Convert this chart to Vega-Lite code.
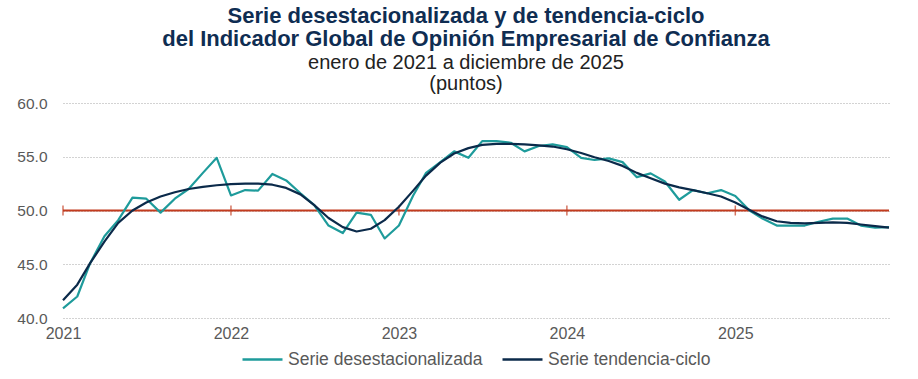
{
  "$schema": "https://vega.github.io/schema/vega-lite/v6.json",
  "autosize": {"type": "none"},
  "width": 826,
  "height": 215,
  "padding": {"left": 63, "top": 103, "right": 29, "bottom": 61},
  "background": "white",
  "title": {
    "text": ["Serie desestacionalizada y de tendencia-ciclo", "del Indicador Global de Opinión Empresarial de Confianza"],
    "subtitle": ["enero de 2021 a diciembre de 2025", "(puntos)"],
    "anchor": "middle",
    "dx": -10,
    "font": "Liberation Sans, Arial, sans-serif",
    "fontSize": 22,
    "fontWeight": "bold",
    "color": "#0F2D52",
    "lineHeight": 23,
    "subtitleFont": "Liberation Sans, Arial, sans-serif",
    "subtitleFontSize": 20,
    "subtitleColor": "#222222",
    "subtitleLineHeight": 21,
    "subtitlePadding": 2,
    "offset": 1
  },
  "datasets": {
    "series": [
      {"fecha": "2021-01-01T00:00:00", "serie": "Serie desestacionalizada", "valor": 40.9},
      {"fecha": "2021-02-01T00:00:00", "serie": "Serie desestacionalizada", "valor": 42.0},
      {"fecha": "2021-03-01T00:00:00", "serie": "Serie desestacionalizada", "valor": 45.1},
      {"fecha": "2021-04-01T00:00:00", "serie": "Serie desestacionalizada", "valor": 47.6},
      {"fecha": "2021-05-01T00:00:00", "serie": "Serie desestacionalizada", "valor": 49.1},
      {"fecha": "2021-06-01T00:00:00", "serie": "Serie desestacionalizada", "valor": 51.2},
      {"fecha": "2021-07-01T00:00:00", "serie": "Serie desestacionalizada", "valor": 51.1},
      {"fecha": "2021-08-01T00:00:00", "serie": "Serie desestacionalizada", "valor": 49.8},
      {"fecha": "2021-09-01T00:00:00", "serie": "Serie desestacionalizada", "valor": 51.1},
      {"fecha": "2021-10-01T00:00:00", "serie": "Serie desestacionalizada", "valor": 52.0},
      {"fecha": "2021-11-01T00:00:00", "serie": "Serie desestacionalizada", "valor": 53.5},
      {"fecha": "2021-12-01T00:00:00", "serie": "Serie desestacionalizada", "valor": 54.9},
      {"fecha": "2022-01-01T00:00:00", "serie": "Serie desestacionalizada", "valor": 51.4},
      {"fecha": "2022-02-01T00:00:00", "serie": "Serie desestacionalizada", "valor": 51.9},
      {"fecha": "2022-03-01T00:00:00", "serie": "Serie desestacionalizada", "valor": 51.85},
      {"fecha": "2022-04-01T00:00:00", "serie": "Serie desestacionalizada", "valor": 53.4},
      {"fecha": "2022-05-01T00:00:00", "serie": "Serie desestacionalizada", "valor": 52.8},
      {"fecha": "2022-06-01T00:00:00", "serie": "Serie desestacionalizada", "valor": 51.6},
      {"fecha": "2022-07-01T00:00:00", "serie": "Serie desestacionalizada", "valor": 50.5},
      {"fecha": "2022-08-01T00:00:00", "serie": "Serie desestacionalizada", "valor": 48.6},
      {"fecha": "2022-09-01T00:00:00", "serie": "Serie desestacionalizada", "valor": 47.9},
      {"fecha": "2022-10-01T00:00:00", "serie": "Serie desestacionalizada", "valor": 49.8},
      {"fecha": "2022-11-01T00:00:00", "serie": "Serie desestacionalizada", "valor": 49.6},
      {"fecha": "2022-12-01T00:00:00", "serie": "Serie desestacionalizada", "valor": 47.4},
      {"fecha": "2023-01-01T00:00:00", "serie": "Serie desestacionalizada", "valor": 48.6},
      {"fecha": "2023-02-01T00:00:00", "serie": "Serie desestacionalizada", "valor": 51.4},
      {"fecha": "2023-03-01T00:00:00", "serie": "Serie desestacionalizada", "valor": 53.5},
      {"fecha": "2023-04-01T00:00:00", "serie": "Serie desestacionalizada", "valor": 54.5},
      {"fecha": "2023-05-01T00:00:00", "serie": "Serie desestacionalizada", "valor": 55.5},
      {"fecha": "2023-06-01T00:00:00", "serie": "Serie desestacionalizada", "valor": 54.9},
      {"fecha": "2023-07-01T00:00:00", "serie": "Serie desestacionalizada", "valor": 56.45},
      {"fecha": "2023-08-01T00:00:00", "serie": "Serie desestacionalizada", "valor": 56.45},
      {"fecha": "2023-09-01T00:00:00", "serie": "Serie desestacionalizada", "valor": 56.3},
      {"fecha": "2023-10-01T00:00:00", "serie": "Serie desestacionalizada", "valor": 55.5},
      {"fecha": "2023-11-01T00:00:00", "serie": "Serie desestacionalizada", "valor": 56.0},
      {"fecha": "2023-12-01T00:00:00", "serie": "Serie desestacionalizada", "valor": 56.15},
      {"fecha": "2024-01-01T00:00:00", "serie": "Serie desestacionalizada", "valor": 55.9},
      {"fecha": "2024-02-01T00:00:00", "serie": "Serie desestacionalizada", "valor": 54.9},
      {"fecha": "2024-03-01T00:00:00", "serie": "Serie desestacionalizada", "valor": 54.7},
      {"fecha": "2024-04-01T00:00:00", "serie": "Serie desestacionalizada", "valor": 54.85},
      {"fecha": "2024-05-01T00:00:00", "serie": "Serie desestacionalizada", "valor": 54.5},
      {"fecha": "2024-06-01T00:00:00", "serie": "Serie desestacionalizada", "valor": 53.1},
      {"fecha": "2024-07-01T00:00:00", "serie": "Serie desestacionalizada", "valor": 53.45},
      {"fecha": "2024-08-01T00:00:00", "serie": "Serie desestacionalizada", "valor": 52.7},
      {"fecha": "2024-09-01T00:00:00", "serie": "Serie desestacionalizada", "valor": 51.0},
      {"fecha": "2024-10-01T00:00:00", "serie": "Serie desestacionalizada", "valor": 51.9},
      {"fecha": "2024-11-01T00:00:00", "serie": "Serie desestacionalizada", "valor": 51.6},
      {"fecha": "2024-12-01T00:00:00", "serie": "Serie desestacionalizada", "valor": 51.9},
      {"fecha": "2025-01-01T00:00:00", "serie": "Serie desestacionalizada", "valor": 51.35},
      {"fecha": "2025-02-01T00:00:00", "serie": "Serie desestacionalizada", "valor": 50.0},
      {"fecha": "2025-03-01T00:00:00", "serie": "Serie desestacionalizada", "valor": 49.25},
      {"fecha": "2025-04-01T00:00:00", "serie": "Serie desestacionalizada", "valor": 48.6},
      {"fecha": "2025-05-01T00:00:00", "serie": "Serie desestacionalizada", "valor": 48.6},
      {"fecha": "2025-06-01T00:00:00", "serie": "Serie desestacionalizada", "valor": 48.6},
      {"fecha": "2025-07-01T00:00:00", "serie": "Serie desestacionalizada", "valor": 48.95},
      {"fecha": "2025-08-01T00:00:00", "serie": "Serie desestacionalizada", "valor": 49.25},
      {"fecha": "2025-09-01T00:00:00", "serie": "Serie desestacionalizada", "valor": 49.25},
      {"fecha": "2025-10-01T00:00:00", "serie": "Serie desestacionalizada", "valor": 48.6},
      {"fecha": "2025-11-01T00:00:00", "serie": "Serie desestacionalizada", "valor": 48.4},
      {"fecha": "2025-12-01T00:00:00", "serie": "Serie desestacionalizada", "valor": 48.45},
      {"fecha": "2021-01-01T00:00:00", "serie": "Serie tendencia-ciclo", "valor": 41.65},
      {"fecha": "2021-02-01T00:00:00", "serie": "Serie tendencia-ciclo", "valor": 43.1},
      {"fecha": "2021-03-01T00:00:00", "serie": "Serie tendencia-ciclo", "valor": 45.1},
      {"fecha": "2021-04-01T00:00:00", "serie": "Serie tendencia-ciclo", "valor": 47.1},
      {"fecha": "2021-05-01T00:00:00", "serie": "Serie tendencia-ciclo", "valor": 48.85},
      {"fecha": "2021-06-01T00:00:00", "serie": "Serie tendencia-ciclo", "valor": 50.0},
      {"fecha": "2021-07-01T00:00:00", "serie": "Serie tendencia-ciclo", "valor": 50.75},
      {"fecha": "2021-08-01T00:00:00", "serie": "Serie tendencia-ciclo", "valor": 51.3},
      {"fecha": "2021-09-01T00:00:00", "serie": "Serie tendencia-ciclo", "valor": 51.7},
      {"fecha": "2021-10-01T00:00:00", "serie": "Serie tendencia-ciclo", "valor": 52.0},
      {"fecha": "2021-11-01T00:00:00", "serie": "Serie tendencia-ciclo", "valor": 52.2},
      {"fecha": "2021-12-01T00:00:00", "serie": "Serie tendencia-ciclo", "valor": 52.35},
      {"fecha": "2022-01-01T00:00:00", "serie": "Serie tendencia-ciclo", "valor": 52.45},
      {"fecha": "2022-02-01T00:00:00", "serie": "Serie tendencia-ciclo", "valor": 52.5},
      {"fecha": "2022-03-01T00:00:00", "serie": "Serie tendencia-ciclo", "valor": 52.5},
      {"fecha": "2022-04-01T00:00:00", "serie": "Serie tendencia-ciclo", "valor": 52.4},
      {"fecha": "2022-05-01T00:00:00", "serie": "Serie tendencia-ciclo", "valor": 52.1},
      {"fecha": "2022-06-01T00:00:00", "serie": "Serie tendencia-ciclo", "valor": 51.5},
      {"fecha": "2022-07-01T00:00:00", "serie": "Serie tendencia-ciclo", "valor": 50.5},
      {"fecha": "2022-08-01T00:00:00", "serie": "Serie tendencia-ciclo", "valor": 49.3},
      {"fecha": "2022-09-01T00:00:00", "serie": "Serie tendencia-ciclo", "valor": 48.45},
      {"fecha": "2022-10-01T00:00:00", "serie": "Serie tendencia-ciclo", "valor": 48.05},
      {"fecha": "2022-11-01T00:00:00", "serie": "Serie tendencia-ciclo", "valor": 48.3},
      {"fecha": "2022-12-01T00:00:00", "serie": "Serie tendencia-ciclo", "valor": 49.1},
      {"fecha": "2023-01-01T00:00:00", "serie": "Serie tendencia-ciclo", "valor": 50.35},
      {"fecha": "2023-02-01T00:00:00", "serie": "Serie tendencia-ciclo", "valor": 51.85},
      {"fecha": "2023-03-01T00:00:00", "serie": "Serie tendencia-ciclo", "valor": 53.25},
      {"fecha": "2023-04-01T00:00:00", "serie": "Serie tendencia-ciclo", "valor": 54.45},
      {"fecha": "2023-05-01T00:00:00", "serie": "Serie tendencia-ciclo", "valor": 55.3},
      {"fecha": "2023-06-01T00:00:00", "serie": "Serie tendencia-ciclo", "valor": 55.8},
      {"fecha": "2023-07-01T00:00:00", "serie": "Serie tendencia-ciclo", "valor": 56.1},
      {"fecha": "2023-08-01T00:00:00", "serie": "Serie tendencia-ciclo", "valor": 56.2},
      {"fecha": "2023-09-01T00:00:00", "serie": "Serie tendencia-ciclo", "valor": 56.2},
      {"fecha": "2023-10-01T00:00:00", "serie": "Serie tendencia-ciclo", "valor": 56.15},
      {"fecha": "2023-11-01T00:00:00", "serie": "Serie tendencia-ciclo", "valor": 56.05},
      {"fecha": "2023-12-01T00:00:00", "serie": "Serie tendencia-ciclo", "valor": 55.95},
      {"fecha": "2024-01-01T00:00:00", "serie": "Serie tendencia-ciclo", "valor": 55.7},
      {"fecha": "2024-02-01T00:00:00", "serie": "Serie tendencia-ciclo", "valor": 55.35},
      {"fecha": "2024-03-01T00:00:00", "serie": "Serie tendencia-ciclo", "valor": 54.95},
      {"fecha": "2024-04-01T00:00:00", "serie": "Serie tendencia-ciclo", "valor": 54.6},
      {"fecha": "2024-05-01T00:00:00", "serie": "Serie tendencia-ciclo", "valor": 54.15},
      {"fecha": "2024-06-01T00:00:00", "serie": "Serie tendencia-ciclo", "valor": 53.5},
      {"fecha": "2024-07-01T00:00:00", "serie": "Serie tendencia-ciclo", "valor": 53.0},
      {"fecha": "2024-08-01T00:00:00", "serie": "Serie tendencia-ciclo", "valor": 52.5},
      {"fecha": "2024-09-01T00:00:00", "serie": "Serie tendencia-ciclo", "valor": 52.15},
      {"fecha": "2024-10-01T00:00:00", "serie": "Serie tendencia-ciclo", "valor": 51.9},
      {"fecha": "2024-11-01T00:00:00", "serie": "Serie tendencia-ciclo", "valor": 51.6},
      {"fecha": "2024-12-01T00:00:00", "serie": "Serie tendencia-ciclo", "valor": 51.3},
      {"fecha": "2025-01-01T00:00:00", "serie": "Serie tendencia-ciclo", "valor": 50.75},
      {"fecha": "2025-02-01T00:00:00", "serie": "Serie tendencia-ciclo", "valor": 50.05},
      {"fecha": "2025-03-01T00:00:00", "serie": "Serie tendencia-ciclo", "valor": 49.45},
      {"fecha": "2025-04-01T00:00:00", "serie": "Serie tendencia-ciclo", "valor": 49.0},
      {"fecha": "2025-05-01T00:00:00", "serie": "Serie tendencia-ciclo", "valor": 48.85},
      {"fecha": "2025-06-01T00:00:00", "serie": "Serie tendencia-ciclo", "valor": 48.8},
      {"fecha": "2025-07-01T00:00:00", "serie": "Serie tendencia-ciclo", "valor": 48.85},
      {"fecha": "2025-08-01T00:00:00", "serie": "Serie tendencia-ciclo", "valor": 48.9},
      {"fecha": "2025-09-01T00:00:00", "serie": "Serie tendencia-ciclo", "valor": 48.85},
      {"fecha": "2025-10-01T00:00:00", "serie": "Serie tendencia-ciclo", "valor": 48.7},
      {"fecha": "2025-11-01T00:00:00", "serie": "Serie tendencia-ciclo", "valor": 48.55},
      {"fecha": "2025-12-01T00:00:00", "serie": "Serie tendencia-ciclo", "valor": 48.4}
    ],
    "anios": [
      {"fecha": "2021-01-01T00:00:00", "umbral": 50},
      {"fecha": "2022-01-01T00:00:00", "umbral": 50},
      {"fecha": "2023-01-01T00:00:00", "umbral": 50},
      {"fecha": "2024-01-01T00:00:00", "umbral": 50},
      {"fecha": "2025-01-01T00:00:00", "umbral": 50}
    ]
  },
  "layer": [
    {
      "data": {"name": "anios"},
      "mark": {"type": "rule", "color": "#C23B1E", "strokeWidth": 2},
      "encoding": {
        "y": {"field": "umbral", "type": "quantitative", "aggregate": "max"}
      }
    },
    {
      "data": {"name": "anios"},
      "mark": {"type": "tick", "color": "#C23B1E", "orient": "vertical", "size": 10, "thickness": 1.5},
      "encoding": {
        "x": {"field": "fecha", "type": "temporal"},
        "y": {"field": "umbral", "type": "quantitative"}
      }
    },
    {
      "data": {"name": "series"},
      "mark": {"type": "line", "strokeWidth": 2.2, "strokeJoin": "round"},
      "encoding": {
        "x": {
          "field": "fecha",
          "type": "temporal",
          "scale": {"domain": ["2021-01-01T00:00:00", "2025-12-01T00:00:00"]},
          "axis": {
            "title": null,
            "format": "%Y",
            "tickCount": {"interval": "year", "step": 1},
            "labelFlush": false,
            "labelFont": "Liberation Sans, Arial, sans-serif",
            "labelFontSize": 16,
            "labelColor": "#595959",
            "labelPadding": 7,
            "domain": false,
            "ticks": false,
            "grid": false
          }
        },
        "y": {
          "field": "valor",
          "type": "quantitative",
          "scale": {"domain": [40, 60], "nice": false, "zero": false},
          "axis": {
            "title": null,
            "values": [40, 45, 50, 55, 60],
            "format": ".1f",
            "labelFont": "Liberation Sans, Arial, sans-serif",
            "labelFontSize": 15.5,
            "labelColor": "#595959",
            "labelPadding": 16,
            "domain": false,
            "ticks": false,
            "grid": true,
            "gridColor": "#A6A6A6",
            "gridDash": [1, 2],
            "gridWidth": 1
          }
        },
        "color": {
          "field": "serie",
          "type": "nominal",
          "scale": {
            "domain": ["Serie desestacionalizada", "Serie tendencia-ciclo"],
            "range": ["#1E9B9B", "#0B2A4A"]
          },
          "legend": {
            "title": null,
            "orient": "bottom",
            "direction": "horizontal",
            "symbolType": "stroke",
            "symbolSize": 1600,
            "symbolStrokeWidth": 2.5,
            "labelFont": "Liberation Sans, Arial, sans-serif",
            "labelFontSize": 17.5,
            "labelColor": "#595959",
            "labelLimit": 400,
            "labelOffset": 4,
            "columnPadding": 14,
            "padding": 0,
            "offset": -3
          }
        }
      }
    }
  ],
  "config": {
    "view": {"stroke": null},
    "legend": {"layout": {"bottom": {"anchor": "middle"}}}
  }
}
